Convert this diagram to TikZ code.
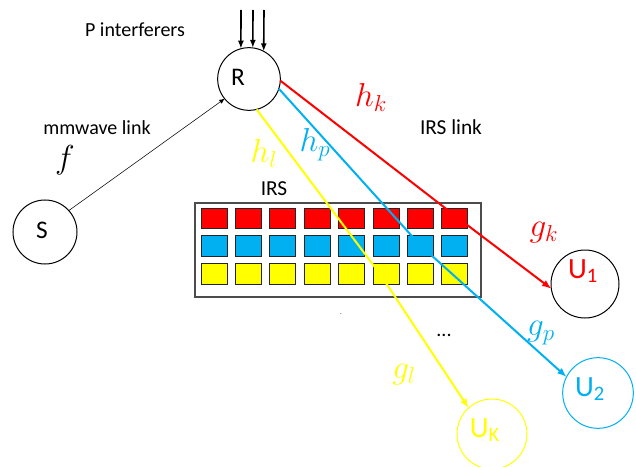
\documentclass[tikz,border=0pt]{standalone}
\usepackage{fontspec}
\setmainfont{Carlito}
\usetikzlibrary{arrows.meta}

\tikzset{every picture/.style={line width=0.75pt}}
\definecolor{irsred}{RGB}{255,0,0}
\definecolor{irsblue}{RGB}{0,176,240}
\definecolor{irsyellow}{RGB}{255,255,0}

\begin{document}
\begin{tikzpicture}[x=0.75pt,y=0.75pt,yscale=-1,xscale=1,
  unit/.style={draw, circle, inner sep=0pt, outer sep=0pt},
  cell/.style={draw=black!85, line width=0.5pt},
  txt/.style={inner sep=0.75pt, font=\fontsize{15}{17}\selectfont},
  bigtxt/.style={inner sep=0.75pt, font=\fontsize{16}{18}\selectfont},
  nodetxt/.style={inner sep=0.75pt, font=\fontsize{19}{21}\selectfont},
  usertxt/.style={inner sep=0.75pt, font=\fontsize{22}{24}\selectfont},
  chan/.style={inner sep=0.75pt, font=\fontsize{24}{26}\selectfont},
  link/.style={line width=1.5, -{Latex[length=7pt,width=5.5pt]}}]
%set diagram left start at 0, and has size of 636 x 467
\path[use as bounding box] (0,0) rectangle (636,467);

%Shape: Circle [S]
\node (S) [unit, minimum size=48pt] at (45,232) {};
%Shape: Circle [R]
\node (R) [unit, minimum size=47pt] at (249,79) {};
%Shape: Circle [U1]
\node (U1) [unit, minimum size=51pt] at (585,284) {};
%Shape: Circle [U2]
\node (U2) [unit, draw=irsblue, minimum size=53pt] at (598,393) {};
%Shape: Circle [UK]
\node (UK) [unit, draw=irsyellow, minimum size=52.5pt] at (492,434) {};

%Shape: Rectangle [IRS]
\draw [draw=black!70, line width=1] (195,203) rectangle (481,297);
%IRS elements, red row
\draw [cell, fill=irsred] (201,208) rectangle (227,228);
\draw [cell, fill=irsred] (235.4,208) rectangle (261.4,228);
\draw [cell, fill=irsred] (269.8,208) rectangle (295.8,228);
\draw [cell, fill=irsred] (304.2,208) rectangle (330.2,228);
\draw [cell, fill=irsred] (338.6,208) rectangle (364.6,228);
\draw [cell, fill=irsred] (373,208) rectangle (399,228);
\draw [cell, fill=irsred] (407.4,208) rectangle (433.4,228);
\draw [cell, fill=irsred] (441.8,208) rectangle (467.8,228);
%IRS elements, blue row
\draw [cell, fill=irsblue] (201,235) rectangle (227,256);
\draw [cell, fill=irsblue] (235.4,235) rectangle (261.4,256);
\draw [cell, fill=irsblue] (269.8,235) rectangle (295.8,256);
\draw [cell, fill=irsblue] (304.2,235) rectangle (330.2,256);
\draw [cell, fill=irsblue] (338.6,235) rectangle (364.6,256);
\draw [cell, fill=irsblue] (373,235) rectangle (399,256);
\draw [cell, fill=irsblue] (407.4,235) rectangle (433.4,256);
\draw [cell, fill=irsblue] (441.8,235) rectangle (467.8,256);
%IRS elements, yellow row
\draw [cell, fill=irsyellow] (201,263) rectangle (227,284);
\draw [cell, fill=irsyellow] (235.4,263) rectangle (261.4,284);
\draw [cell, fill=irsyellow] (269.8,263) rectangle (295.8,284);
\draw [cell, fill=irsyellow] (304.2,263) rectangle (330.2,284);
\draw [cell, fill=irsyellow] (338.6,263) rectangle (364.6,284);
\draw [cell, fill=irsyellow] (373,263) rectangle (399,284);
\draw [cell, fill=irsyellow] (407.4,263) rectangle (433.4,284);
\draw [cell, fill=irsyellow] (441.8,263) rectangle (467.8,284);

%reflection points on the IRS
\coordinate (kbend) at (458,218);
\coordinate (pbend) at (420,245);
\coordinate (lbend) at (380,274);
%free ends of the interferer arrows
\coordinate (int1) at (241,10);
\coordinate (int2) at (253,10);
\coordinate (int3) at (264,10);

%Straight Lines [interferers]
\draw [line width=1.2, -{Latex[length=6pt,width=4.5pt]}] (int1) -- (R.105);
\draw [line width=1.2, -{Latex[length=6pt,width=4.5pt]}] (int2) -- (R.83);
\draw [line width=1.2, -{Latex[length=6pt,width=4.5pt]}] (int3) -- (R.62);
%Straight Lines [mmwave link]
\draw [line width=0.4, -{Latex[length=4pt,width=3.5pt]}] (S.42) -- (R.219);
%Straight Lines [IRS links]
\draw [link, color=irsred] (R.-3) -- (kbend) -- (U1.188);
\draw [link, color=irsblue] (R.-18) -- (pbend) -- (U2.153);
\draw [link, color=irsyellow] (R.-76) -- (lbend) -- (UK.132);

% Text Node
\node (Slbl) [nodetxt] at (42,230) {S};
% Text Node
\node (Rlbl) [nodetxt] at (238,77) {R};
% Text Node
\node (U1lbl) [usertxt, text=irsred] at (583,271) {U\textsubscript{1}};
% Text Node
\node (U2lbl) [usertxt, text=irsblue] at (590,389) {U\textsubscript{2}};
% Text Node
\node (UKlbl) [usertxt, text=irsyellow] at (485,430) {U\textsubscript{K}};
% Text Node
\node (interf) [txt] at (135,30) {P interferers};
% Text Node
\node (mmw) [txt] at (97,128) {mmwave link};
% Text Node
\node (flbl) [chan] at (65,160) {$f$};
% Text Node
\node (irslbl) [bigtxt] at (274,189) {IRS};
% Text Node
\node (irslink) [bigtxt] at (451,127) {IRS link};
% Text Node
\node (hk) [chan, text=irsred] at (371,97) {$h_k$};
% Text Node
\node (hp) [chan, text=irsblue] at (315,145) {$h_p$};
% Text Node
\node (hl) [chan, text=irsyellow] at (264,153) {$h_l$};
% Text Node
\node (gk) [chan, text=irsred] at (544,233) {$g_k$};
% Text Node
\node (gp) [chan, text=irsblue] at (541,333) {$g_p$};
% Text Node
\node (gl) [chan, text=irsyellow] at (404,375) {$g_l$};
% Text Node
\node (dots) [txt] at (444,335) {...};
% Text Node
\node (speck) [inner sep=0pt, font=\tiny] at (341,314) {.};

\end{tikzpicture}
\end{document}
